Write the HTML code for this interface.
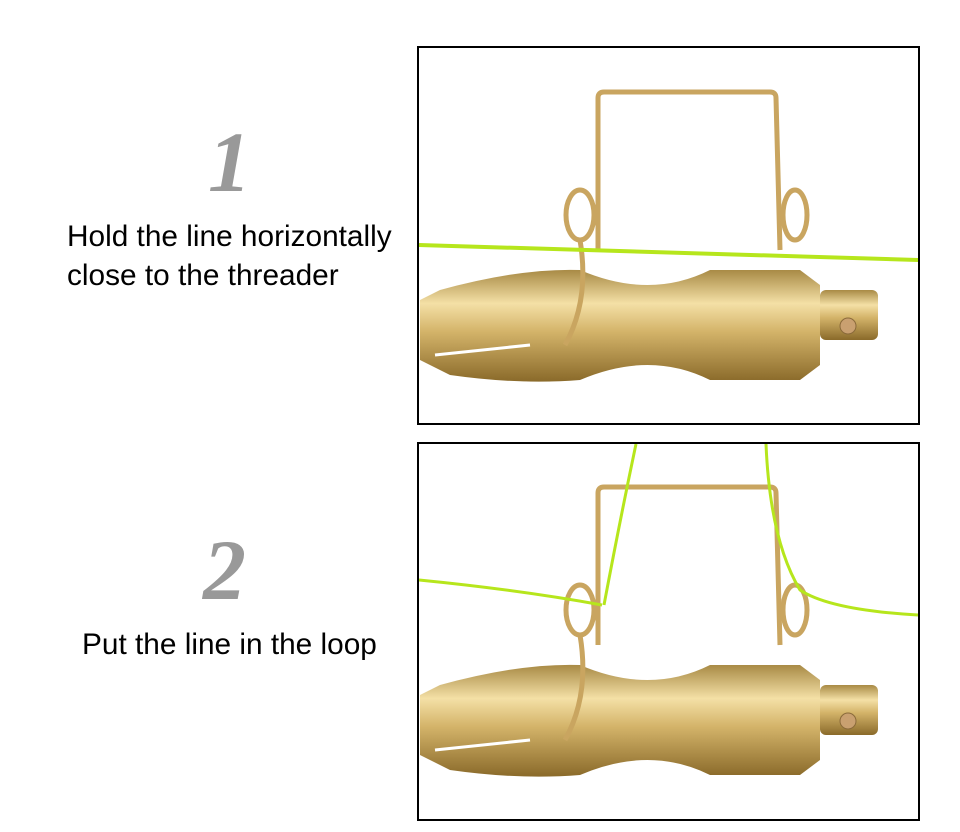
<!DOCTYPE html>
<html><head><meta charset="utf-8"><style>
html,body{margin:0;padding:0;background:#fff;width:960px;height:832px;overflow:hidden}
.t{position:absolute;font-family:"Liberation Sans",sans-serif;font-size:29.8px;color:#000;line-height:39px;white-space:nowrap}
.n{position:absolute;font-family:"Liberation Serif",serif;font-style:italic;font-weight:bold;font-size:86px;color:#999}
</style></head><body>
<div class="n" style="left:208px;top:112px">1</div>
<div class="t" style="left:67px;top:217px">Hold the line horizontally<br>close to the threader</div>
<div class="n" style="left:203px;top:520px">2</div>
<div class="t" style="left:82px;top:625px">Put the line in the loop</div>
<svg width="960" height="832" style="position:absolute;left:0;top:0">
<defs>
<linearGradient id="g" x1="0" y1="0" x2="0" y2="1">
<stop offset="0" stop-color="#a88a45"/><stop offset="0.3" stop-color="#f4e0a6"/>
<stop offset="0.55" stop-color="#d4b46a"/><stop offset="1" stop-color="#8a6a2a"/></linearGradient>
<clipPath id="c1"><rect x="419" y="48" width="499" height="375"/></clipPath>
<clipPath id="c2"><rect x="419" y="444" width="499" height="375"/></clipPath>
<g id="th">
<path d="M420 300 L440 290 Q520 268 580 270 Q650 300 710 270 L800 270 L820 285 L820 365 L800 380 L710 380 Q650 350 580 380 Q520 385 450 375 L420 360 Z" fill="url(#g)"/>
<rect x="820" y="290" width="58" height="50" rx="6" fill="url(#g)"/>
<circle cx="848" cy="326" r="8" fill="#c9a070" stroke="#8a6a3a"/>
<path d="M598 250 L598 98 Q598 92 604 92 L770 92 Q776 92 776 98 L780 250" fill="none" stroke="#c9a560" stroke-width="5"/>
<ellipse cx="580" cy="215" rx="14" ry="25" fill="none" stroke="#c9a560" stroke-width="5"/>
<ellipse cx="795" cy="215" rx="12" ry="25" fill="none" stroke="#c9a560" stroke-width="5"/>
<path d="M580 240 Q590 300 565 345" fill="none" stroke="#c9a560" stroke-width="5"/>
<path d="M435 355 L530 345" stroke="#fff" stroke-width="3"/>
</g>
</defs>
<g clip-path="url(#c1)">
<use href="#th"/>
<path d="M419 245 L918 260" stroke="#b6e61c" stroke-width="4"/>
</g>
<g clip-path="url(#c2)">
<use href="#th" transform="translate(0,395)"/>
<path d="M419 580 Q520 590 602 605" fill="none" stroke="#b6e61c" stroke-width="3"/>
<path d="M636 444 Q620 520 604 605" fill="none" stroke="#b6e61c" stroke-width="3"/>
<path d="M766 444 Q770 540 800 590 Q830 610 918 615" fill="none" stroke="#b6e61c" stroke-width="3"/>
</g>
<rect x="418" y="47" width="501" height="377" fill="none" stroke="#000" stroke-width="2"/>
<rect x="418" y="443" width="501" height="377" fill="none" stroke="#000" stroke-width="2"/>
</svg>
</body></html>
